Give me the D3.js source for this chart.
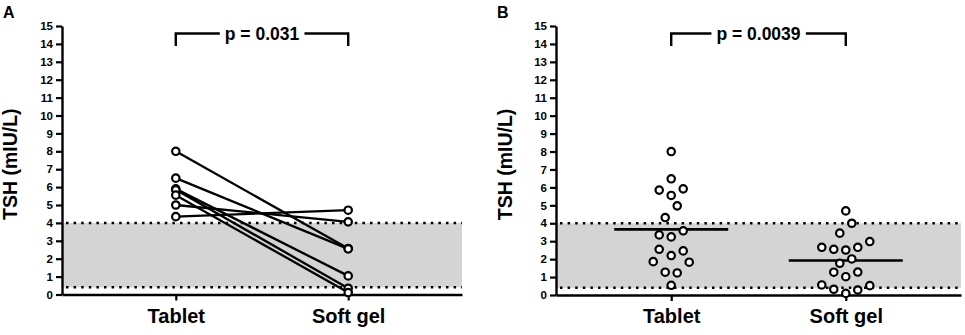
<!DOCTYPE html>
<html>
<head>
<meta charset="utf-8">
<script src="https://cdn.jsdelivr.net/npm/d3@7"></script>
<style>
  html, body { margin: 0; padding: 0; background: #fff; }
  svg { display: block; font-family: "Liberation Sans", Arial, Helvetica, sans-serif; }
</style>
</head>
<body>
<svg id="chart" width="965" height="335"></svg>
<script>
// ---------- data ----------
const categories = ["Tablet", "Soft gel"];
const yTickValues = [0, 1, 2, 3, 4, 5, 6, 7, 8, 9, 10, 11, 12, 13, 14, 15];
const yLabel = "TSH (mIU/L)";
const refRange = [0.4, 4.0];

// Panel A: paired values (7 patients)
const pairedTablet  = [8.0, 6.5, 5.9, 5.85, 5.55, 5.0, 4.35];
const pairedSoftGel = [2.57, 2.55, 1.04, 0.35, 0.11, 4.06, 4.71];
const pValueA = "p = 0.031";

// Panel B: all patients (scatter, with mean line)
const tabletValues = [8.0, 6.48, 5.85, 5.92, 5.55, 4.97, 4.32, 3.58, 3.35, 3.24, 2.55, 2.46, 2.2, 1.86, 1.83, 1.27, 1.23, 0.54];
const tabletSlots  = [0,   0,   -2,    2,    0,    1,   -1,    2,   -2,    0,   -2,    2,   0,   -3,    3,   -1,    1,    0];
const softGelValues = [4.69, 4.0, 3.45, 2.98, 2.66, 2.55, 2.51, 2.66, 2.01, 1.77, 1.27, 1.28, 1.02, 0.56, 0.52, 0.32, 0.28, 0.09];
const softGelSlots  = [0,    1,   -1,    4,   -4,   -2,    0,    2,    1,   -1,   -2,    2,    0,   -4,    4,   -2,    2,    0];
const meanValues = [3.66, 1.92];
const pValueB = "p = 0.0039";

// ---------- drawing ----------
const svg = d3.select("#chart");
const FONT_BOLD = 700;
const FAM = "'Liberation Sans', Arial, sans-serif";

function drawPanel(opts) {
  const g = svg.append("g");
  const x = d3.scalePoint().domain(categories).range([opts.left, opts.right]).padding(0.66);
  const y = d3.scaleLinear().domain([0, 15]).range([opts.bottom, opts.top]);

  // reference range shading
  g.append("rect")
    .attr("x", opts.left).attr("width", opts.right - opts.left)
    .attr("y", y(refRange[1])).attr("height", y(refRange[0]) - y(refRange[1]))
    .attr("fill", "#d4d4d4");
  g.selectAll("line.ref").data(refRange).join("line")
    .attr("class", "ref")
    .attr("x1", opts.left + 4).attr("x2", opts.right)
    .attr("y1", d => y(d)).attr("y2", d => y(d))
    .attr("stroke", "#000").attr("stroke-width", 2.5)
    .attr("stroke-dasharray", "2.5,5.1");

  // y axis
  const ya = g.append("g").attr("transform", `translate(${opts.left},0)`)
    .call(d3.axisLeft(y).tickValues(yTickValues).tickFormat(d3.format("d")).tickSize(6).tickSizeOuter(0).tickPadding(3));
  ya.select(".domain").attr("stroke-width", 2.4);
  ya.selectAll(".tick line").attr("stroke-width", 2.2);
  ya.selectAll(".tick text").attr("font-size", 11.5).attr("font-weight", FONT_BOLD).attr("fill", "#000")
    .attr("font-family", FAM);

  // x axis
  const xa = g.append("g").attr("transform", `translate(0,${opts.bottom})`)
    .call(d3.axisBottom(x).tickSize(6).tickSizeOuter(0).tickPadding(8));
  xa.select(".domain").attr("stroke-width", 2.4);
  xa.selectAll(".tick line").attr("stroke-width", 2.2);
  xa.selectAll(".tick text").attr("font-size", 20).attr("font-weight", FONT_BOLD).attr("fill", "#000")
    .attr("font-family", FAM);

  // y-axis title
  g.append("text")
    .attr("transform", `translate(${opts.titleX},${(y(0) + y(15)) / 2 + 4}) rotate(-90)`)
    .attr("text-anchor", "middle")
    .attr("font-size", 19.5).attr("font-weight", FONT_BOLD)
    .text(yLabel);

  // panel letter
  g.append("text").attr("x", opts.letterX).attr("y", 18)
    .attr("font-size", 16).attr("font-weight", FONT_BOLD).text(opts.letter);

  // significance bracket
  const bx1 = x(categories[0]), bx2 = x(categories[1]);
  const byTop = 33.5, byBot = 46;
  const pt = g.append("text")
    .attr("x", (bx1 + bx2) / 2).attr("y", byTop + 6.5)
    .attr("text-anchor", "middle")
    .attr("font-size", 17.5).attr("font-weight", FONT_BOLD)
    .text(opts.pText);
  const bb = pt.node().getBBox();
  g.append("path")
    .attr("d", `M${bx1},${byBot}V${byTop}H${bb.x - 5}M${bb.x + bb.width + 5},${byTop}H${bx2}V${byBot}`)
    .attr("fill", "none").attr("stroke", "#000").attr("stroke-width", 2.4);

  return { g, x, y };
}

// Panel A
const A = drawPanel({ left: 62, right: 462, top: 26, bottom: 294.5, titleX: 17, letterX: 3, letter: "A", pText: pValueA });
const pairs = pairedTablet.map((t, i) => [t, pairedSoftGel[i]]);
A.g.selectAll("line.pair").data(pairs).join("line")
  .attr("class", "pair")
  .attr("x1", A.x(categories[0])).attr("x2", A.x(categories[1]))
  .attr("y1", d => A.y(d[0])).attr("y2", d => A.y(d[1]))
  .attr("stroke", "#000").attr("stroke-width", 2.3);
const ptsA = pairs.flatMap(d => [{ c: categories[0], v: d[0] }, { c: categories[1], v: d[1] }]);
A.g.selectAll("circle").data(ptsA).join("circle")
  .attr("cx", d => A.x(d.c)).attr("cy", d => A.y(d.v)).attr("r", 3.7)
  .attr("fill", "#fff").attr("stroke", "#000").attr("stroke-width", 2.2);

// Panel B
const B = drawPanel({ left: 556, right: 961, top: 26, bottom: 295, titleX: 512, letterX: 497, letter: "B", pText: pValueB });
const slot = d3.scaleLinear().domain([0, 1]).range([0, 6]);
const meanHalf = 57;
B.g.selectAll("line.mean").data(meanValues).join("line")
  .attr("class", "mean")
  .attr("x1", (d, i) => B.x(categories[i]) - meanHalf)
  .attr("x2", (d, i) => B.x(categories[i]) + meanHalf)
  .attr("y1", d => B.y(d)).attr("y2", d => B.y(d))
  .attr("stroke", "#000").attr("stroke-width", 2.6);
const ptsB = tabletValues.map((v, i) => ({ c: categories[0], v, s: tabletSlots[i] }))
  .concat(softGelValues.map((v, i) => ({ c: categories[1], v, s: softGelSlots[i] })));
B.g.selectAll("circle").data(ptsB).join("circle")
  .attr("cx", d => B.x(d.c) + slot(d.s)).attr("cy", d => B.y(d.v)).attr("r", 3.7)
  .attr("fill", "#fff").attr("stroke", "#000").attr("stroke-width", 2.2);
</script>
</body>
</html>
